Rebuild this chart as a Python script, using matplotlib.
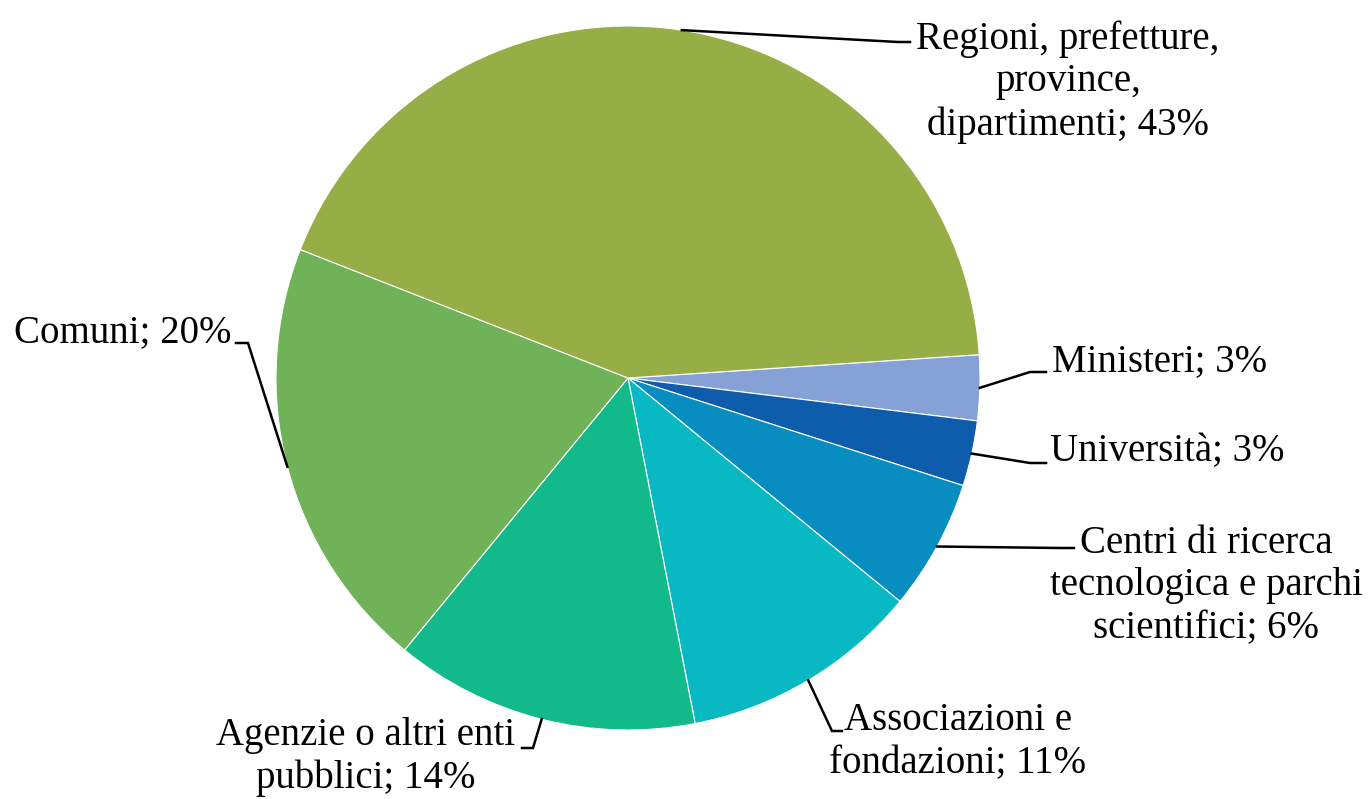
import numpy as np
import matplotlib
matplotlib.use("Agg")
import matplotlib.pyplot as plt

# =========================
# DATA
# =========================
labels = [
    "Ministeri",
    "Università",
    "Centri di ricerca\ntecnologica e parchi\nscientifici",
    "Associazioni e\nfondazioni",
    "Agenzie o altri enti\npubblici",
    "Comuni",
    "Regioni, prefetture,\nprovince,\ndipartimenti",
]
shares = [3, 3, 6, 11, 14, 20, 43]
colors = ["#86A1D6", "#0E5DAD", "#088DC0", "#08B9C3", "#12B98A", "#6FB257", "#97AD45"]

# =========================
# LAYOUT (pixels in a 1371x799 canvas)
# =========================
W, H = 1371, 799
CX, CY, R = 628, 378, 352

def px(x, y):
    return ((x - CX) / R, (CY - y) / R)

# text anchor, alignment, elbow point, line end point
label_layout = [
    ((1052, 362), "left", (1030, 372), (1046, 372)),
    ((1050, 452), "left", (1030, 463), (1046, 463)),
    ((1206, 586), "center", (1060, 548), (1074, 548)),
    ((958, 742), "center", (832, 731), (842, 731)),
    ((366, 757), "center", (533, 748), (522, 748)),
    ((231, 333), "right", (248, 343), (236, 343)),
    ((1068, 82), "center", (898, 42), (910, 42)),
]

fig = plt.figure(figsize=(W / 100, H / 100), dpi=100)
ax = fig.add_axes([0, 0, 1, 1])

wedges, _ = ax.pie(
    shares,
    colors=colors,
    startangle=3.8,
    counterclock=False,
    radius=1.0,
    wedgeprops=dict(edgecolor="white", linewidth=0.8),
)

ax.set_xlim(px(0, 0)[0], px(W, 0)[0])
ax.set_ylim(px(0, H)[1], px(0, 0)[1])
ax.set_aspect("auto")
ax.axis("off")

font = dict(family="Liberation Serif", fontsize=28, color="black")

for w, lab, val, (txt, ha, elbow, end) in zip(wedges, labels, shares, label_layout):
    mid = np.deg2rad((w.theta1 + w.theta2) / 2)
    x0, y0 = np.cos(mid), np.sin(mid)
    ex, ey = px(*elbow)
    tx, ty = px(*end)
    ax.plot([x0, ex, tx], [y0, ey, ty], color="black", lw=1.8, solid_joinstyle="miter")
    lx, ly = px(*txt)
    ax.text(lx, ly, f"{lab}; {val}%", ha=ha, va="center", multialignment="center",
            linespacing=1.2, **font)

fig.savefig("out.png", dpi=100, facecolor="white")
